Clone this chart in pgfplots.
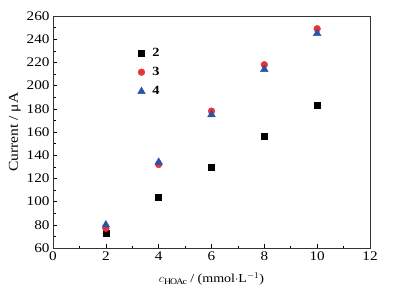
\documentclass[border=0pt]{standalone}
\usepackage{pgfplots}
\pgfplotsset{compat=1.18}
\usepackage{fontspec}
\setmainfont{Liberation Serif}[FakeStretch=1.15]
\definecolor{cred}{RGB}{232,52,52}
\definecolor{cblue}{RGB}{40,85,170}
\begin{document}
\begin{tikzpicture}
\begin{axis}[
  scale only axis, width=317pt, height=232pt,
  xmin=0, xmax=12, ymin=60, ymax=260,
  xtick={0,2,...,12}, ytick={60,80,...,260},
  minor x tick num=1, minor y tick num=1,
  tick align=inside, tick pos=left,
  major tick length=4pt, minor tick length=2.5pt,
  axis line style={line width=0.8pt, black!80},
  tick style={line width=0.6pt, black},
  ticklabel style={font=\fontsize{13.2}{15}\selectfont},
  /pgf/number format/assume math mode=true,
  xlabel={$c_{\mathrm{HOAc}}$ / (mmol$\cdot$L$^{-1}$)},
  ylabel={Current / μA},
  xlabel style={font=\fontsize{12.2}{14}\selectfont, yshift=-5pt},
  ylabel style={font=\fontsize{13.5}{15}\selectfont, yshift=-1pt},
  legend style={draw=none, fill=none, at={(0.257,0.88)}, anchor=north west, font=\bfseries\fontsize{12.5}{14}\selectfont, row sep=5.5pt},
  legend cell align=left,
]
\addplot[only marks, mark=square*, mark size=3pt, black] coordinates {(2,73) (4,104) (6,130) (8,156) (10,183)};
\addlegendentry{\hspace{5pt}2}
\addplot[only marks, mark=*, mark size=3.4pt, cred] coordinates {(2,77) (4,132) (6,178) (8,218) (10,249)};
\addlegendentry{\hspace{5pt}3}
\addplot[only marks, mark=triangle*, mark size=4.4pt, cblue] coordinates {(2,80) (4,134) (6,175) (8,214) (10,245)};
\addlegendentry{\hspace{5pt}4}
\end{axis}
\path ([shift={(-53pt,-49pt)}]current axis.south west) rectangle ([shift={(23pt,16pt)}]current axis.north east);
\end{tikzpicture}
\end{document}
